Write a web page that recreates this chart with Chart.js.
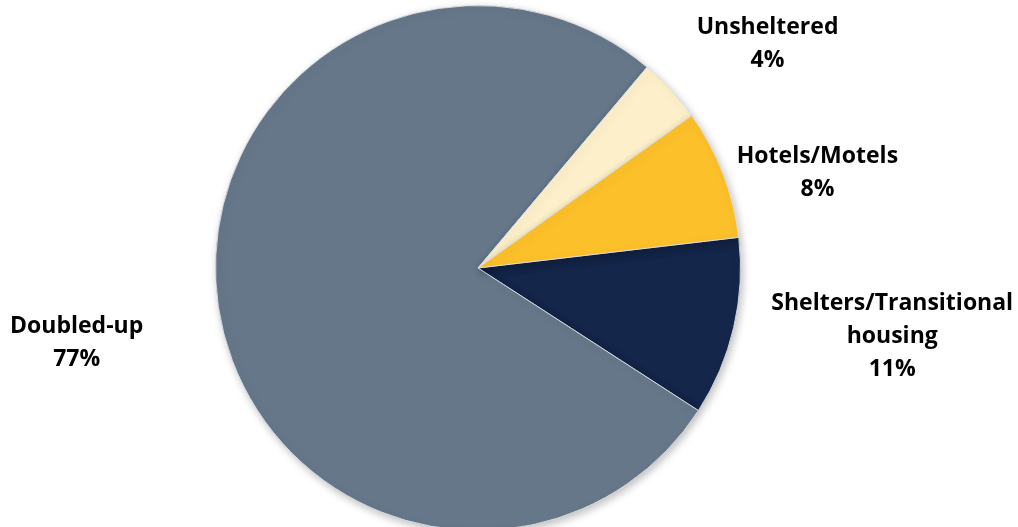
<!DOCTYPE html>
<html>
<head>
<meta charset="utf-8">
<script src="https://cdn.jsdelivr.net/npm/chart.js@4"></script>
<style>
  html, body { margin: 0; padding: 0; background: #fff; overflow: hidden; }
  #wrap { width: 1018px; height: 540px; }
</style>
</head>
<body>
<div id="wrap"><canvas id="housingChart" width="1018" height="540"></canvas></div>
<script>
// clockwise order, starting just above 3 o'clock
const categories = ['Shelters/Transitional housing', 'Doubled-up', 'Unsheltered', 'Hotels/Motels'];
const shares = [11, 77, 4, 8];
const labelLines = [
    ['Shelters/Transitional', 'housing', '11%'],
    ['Doubled-up', '77%'],
    ['Unsheltered', '4%'],
    ['Hotels/Motels', '8%']
];
const sliceColors = ['#15264b', '#657789', '#fdefc9', '#fcc02a'];

// label anchor relative to pie centre, in units of radius
const labelOffsets = [[1.578, 0.259], [-1.529, 0.285], [1.103, -0.852], [1.293, -0.361]];

const outsideLabels = {
    id: 'outsideLabels',
    afterDraw(chart) {
        const ctx = chart.ctx;
        const arcs = chart.getDatasetMeta(0).data;
        ctx.save();
        ctx.font = 'bold 23px "Open Sans"';
        ctx.fillStyle = '#000';
        ctx.textAlign = 'center';
        ctx.textBaseline = 'middle';
        arcs.forEach((arc, i) => {
            const r = arc.outerRadius;
            const cx = arc.x + labelOffsets[i][0] * r;
            const cy = arc.y + labelOffsets[i][1] * r;
            const lines = labelLines[i];
            const lh = 33;
            lines.forEach((t, j) => {
                ctx.fillText(t, cx, cy + (j - (lines.length - 1) / 2) * lh);
            });
        });
        ctx.restore();
    }
};

const pieShadow = {
    id: 'pieShadow',
    beforeDatasetsDraw(chart) {
        const ctx = chart.ctx;
        ctx.save();
        ctx.shadowColor = 'rgba(0,0,0,0.25)';
        ctx.shadowBlur = 8;
        ctx.shadowOffsetX = 2;
        ctx.shadowOffsetY = 3;
    },
    afterDatasetsDraw(chart) {
        chart.ctx.restore();
    }
};

new Chart(document.getElementById('housingChart'), {
    type: 'pie',
    data: {
        labels: categories,
        datasets: [{
            data: shares,
            backgroundColor: sliceColors,
            borderColor: 'rgba(220,225,230,0.9)',
            borderWidth: 1
        }]
    },
    options: {
        responsive: false,
        animation: false,
        rotation: 83.3,
        layout: { padding: { left: 0, right: 62, top: 5, bottom: 9 } },
        plugins: {
            legend: { display: false },
            tooltip: { enabled: false }
        }
    },
    plugins: [pieShadow, outsideLabels]
});
</script>
</body>
</html>
